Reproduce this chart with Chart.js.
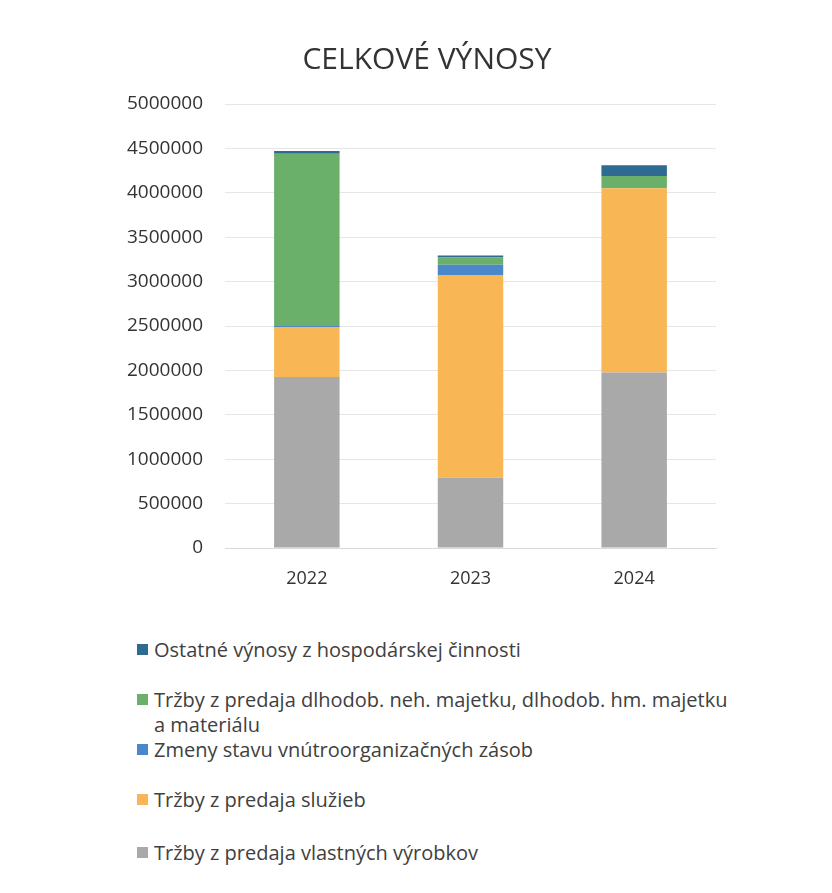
<!DOCTYPE html>
<html>
<head>
<meta charset="utf-8">
<script src="https://cdn.jsdelivr.net/npm/chart.js@4.4.1/dist/chart.umd.min.js"></script>
<style>
  html, body { margin: 0; padding: 0; background: #fff; }
  #wrap { position: relative; width: 832px; height: 893px; overflow: hidden; }
  #chart { position: absolute; left: 0; top: 0; }
  #legend { position: absolute; left: 134px; top: 0; width: 604px; font-family: "Open Sans", sans-serif; font-size: 20px; color: #404040; }
  .lg-item { position: absolute; left: 0; width: 604px; line-height: 25px; padding-left: 20px; box-sizing: border-box; }
  .lg-box { position: absolute; left: 3px; top: 7px; width: 11px; height: 11px; }
</style>
</head>
<body>
<div id="wrap">
  <canvas id="chart" width="832" height="610"></canvas>
  <div id="legend"></div>
</div>
<script>
// ---------- DATA ----------
const years = ['2022', '2023', '2024'];

const vlastneVyrobky = [1925000, 790000, 1975000];   // Tržby z predaja vlastných výrobkov
const sluzby = [565000, 2280000, 2075000];            // Tržby z predaja služieb
const zmenyZasob = [10000, 120000, 0];                // Zmeny stavu vnútroorganizačných zásob
const predajMajetku = [1940000, 80000, 140000];       // Tržby z predaja dlhodob. majetku...
const ostatneVynosy = [30000, 25000, 120000];         // Ostatné výnosy z hospodárskej činnosti

const yTicks = [0, 500000, 1000000, 1500000, 2000000, 2500000, 3000000, 3500000, 4000000, 4500000, 5000000];

const FONT = '"Open Sans", sans-serif';

// ---------- CHART ----------
const ctx = document.getElementById('chart').getContext('2d');
const chart = new Chart(ctx, {
  type: 'bar',
  data: {
    labels: years,
    datasets: [
      { label: 'Tržby z predaja vlastných výrobkov', data: vlastneVyrobky, backgroundColor: '#A9A9A9' },
      { label: 'Tržby z predaja služieb', data: sluzby, backgroundColor: '#F8B655' },
      { label: 'Zmeny stavu vnútroorganizačných zásob', data: zmenyZasob, backgroundColor: '#4C88C9' },
      { label: 'Tržby z predaja dlhodob. neh. majetku, dlhodob. hm. majetku a materiálu', data: predajMajetku, backgroundColor: '#6AB06A' },
      { label: 'Ostatné výnosy z hospodárskej činnosti', data: ostatneVynosy, backgroundColor: '#2E6A92' }
    ]
  },
  options: {
    responsive: false,
    animation: false,
    layout: { padding: { left: 100, right: 78, top: 42, bottom: 12 } },
    datasets: { bar: { categoryPercentage: 1, barPercentage: 0.4 } },
    plugins: {
      legend: { display: false },
      tooltip: { enabled: false },
      title: {
        display: true,
        text: 'CELKOVÉ VÝNOSY',
        color: '#333',
        font: { family: FONT, size: 30, weight: 'normal' },
        padding: { top: 0, bottom: 26 }
      }
    },
    scales: {
      x: {
        stacked: true,
        grid: { display: false, drawTicks: false },
        border: { display: true, color: '#d9d9d9' },
        ticks: { color: '#333', font: { family: FONT, size: 18 }, padding: 20 },
        afterFit: s => { s.height = 50; }
      },
      y: {
        stacked: true,
        min: 0,
        max: 5000000,
        afterBuildTicks: s => { s.ticks = yTicks.map(v => ({ value: v })); },
        grid: { color: '#e6e6e6', drawTicks: false },
        border: { display: false },
        ticks: { color: '#333', font: { family: FONT, size: 19 }, padding: 22, callback: v => String(v) },
        afterFit: s => { s.width = 125; }
      },
      // empty spacer on the right so the title sits where it does in the original
      spacer: {
        position: 'right',
        grid: { display: false },
        border: { display: false },
        ticks: { display: false },
        afterFit: s => { s.width = 38; }
      }
    }
  }
});

// ---------- LEGEND (html, built from the chart's datasets) ----------
const legendEl = document.getElementById('legend');
const items = chart.options.plugins.legend.labels.generateLabels(chart).reverse();
const legendTops = [637, 687, 737, 787, 840];
items.forEach((it, i) => {
  const div = document.createElement('div');
  div.className = 'lg-item';
  div.style.top = legendTops[i] + 'px';
  div.innerHTML = `<span class="lg-box" style="background:${it.fillStyle}"></span>${it.text}`;
  legendEl.appendChild(div);
});
</script>
</body>
</html>
